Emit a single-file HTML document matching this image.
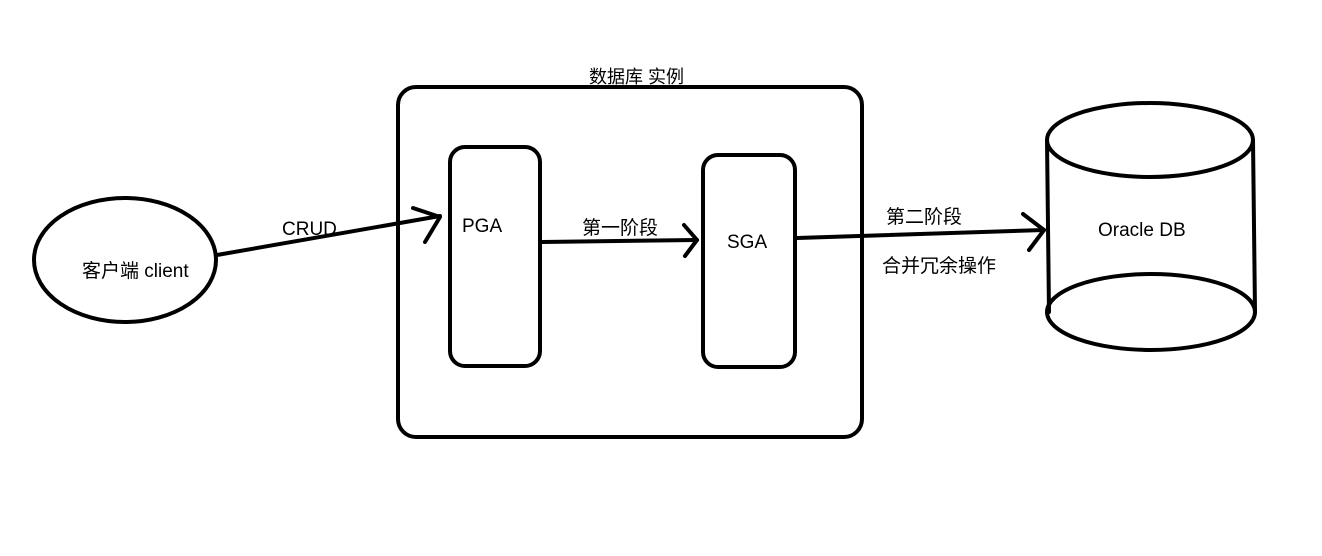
<!DOCTYPE html>
<html><head><meta charset="utf-8"><style>
html,body{margin:0;padding:0;background:#fff;}
svg text{font-family:"Liberation Sans","Noto Sans CJK SC",sans-serif;font-size:19px;fill:#000;}
</style></head><body>
<svg width="1322" height="551" viewBox="0 0 1322 551" xmlns="http://www.w3.org/2000/svg">
<g fill="none" stroke="#000" stroke-width="4" stroke-linecap="round" stroke-linejoin="round">
<ellipse cx="125" cy="260" rx="91" ry="62"/>
<rect x="398" y="87" width="464" height="350" rx="18"/>
<rect x="450" y="147" width="90" height="219" rx="15"/>
<rect x="703" y="155" width="92" height="212" rx="15"/>
<line x1="217" y1="255" x2="440" y2="216"/>
<polyline points="413,208 440,217 425,242"/>
<line x1="542" y1="242" x2="697" y2="240"/>
<polyline points="684,225 697,240 685,256"/>
<line x1="797" y1="238" x2="1044" y2="230"/>
<polyline points="1023,214 1044,230 1029,250"/>
<ellipse cx="1150" cy="140" rx="103" ry="37"/>
<path d="M1047,140 L1049,312 M1253,140 L1255,312"/>
<ellipse cx="1151" cy="312" rx="104" ry="38"/>
</g>
<text x="589" y="83" style="font-size:18px">数据库 实例</text>
<text x="282" y="235">CRUD</text>
<text x="82" y="277">客户端 client</text>
<text x="462" y="232">PGA</text>
<text x="582" y="234">第一阶段</text>
<text x="727" y="248">SGA</text>
<text x="886" y="223">第二阶段</text>
<text x="882" y="272">合并冗余操作</text>
<text x="1098" y="236">Oracle DB</text>
</svg>
</body></html>
